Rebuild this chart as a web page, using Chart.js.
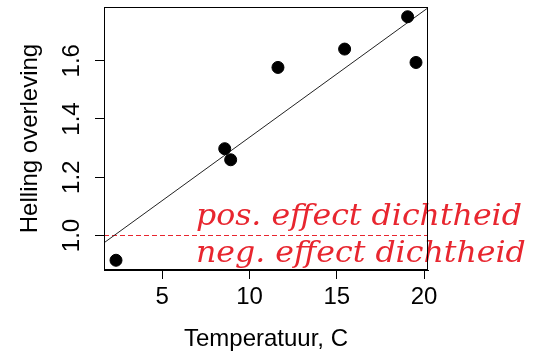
<!DOCTYPE html>
<html><head><meta charset="utf-8">
<script src="https://cdn.jsdelivr.net/npm/chart.js@4/dist/chart.umd.min.js"></script>
<style>html,body{margin:0;padding:0;background:#fff;} #wrap{width:551px;height:355px;}</style>
</head><body><div id="wrap"><canvas id="c" width="551" height="355"></canvas></div>
<script>
// ---- data ----
const temperature = [2.35, 8.58, 8.92, 11.63, 15.45, 19.06, 19.54];
const slopeSurvival = [0.915, 1.298, 1.260, 1.577, 1.640, 1.751, 1.594];
const xTicks = [5, 10, 15, 20];
const yTicks = [1.0, 1.2, 1.4, 1.6];
const yTickLabels = ['1.0', '1.2', '1.4', '1.6'];
const referenceLevel = 1.0;
const annotationTexts = ['pos. effect dichtheid', 'neg. effect dichtheid'];
const xTitle = 'Temperatuur, C';
const yTitle = 'Helling overleving';

// R-style axis ranges (4% extension)
function rRange(a){const lo=Math.min(...a),hi=Math.max(...a),d=(hi-lo)*0.04;return [lo-d,hi+d];}
const [xMin,xMax] = rRange(temperature);
const [yMin,yMax] = rRange(slopeSurvival);

// least-squares fit (abline(lm(y~x)))
const n = temperature.length;
const mx = temperature.reduce((s,v)=>s+v,0)/n;
const my = slopeSurvival.reduce((s,v)=>s+v,0)/n;
let sxy=0,sxx=0;
for(let i=0;i<n;i++){sxy+=(temperature[i]-mx)*(slopeSurvival[i]-my);sxx+=(temperature[i]-mx)**2;}
const b1 = sxy/sxx, b0 = my-b1*mx;

const points = temperature.map((x,i)=>({x, y: slopeSurvival[i]}));
const fitLine = [xMin, xMax].map(x=>({x, y: b0+b1*x}));
const refLine = [xMin, xMax].map(x=>({x, y: referenceLevel}));

const FONT = '"Liberation Sans", Arial, sans-serif';

const framePlugin = {
  id: 'frame',
  afterDraw(chart){
    const {ctx, chartArea:a, scales:{x,y}} = chart;
    ctx.save();
    // annotations
    ctx.fillStyle = '#e8262f';
    ctx.font = 'italic 30px "DejaVu Serif"';
    ctx.textBaseline = 'alphabetic';
    ctx.textAlign = 'left';
    const w0 = ctx.measureText(annotationTexts[0]).width;
    const sx = 326 / w0;
    const x0 = x.getPixelForValue(6.93);
    const bases = [y.getPixelForValue(1.035), y.getPixelForValue(0.91)];
    annotationTexts.forEach((t,i)=>{
      ctx.save();
      ctx.translate(x0, bases[i]);
      ctx.scale(sx, 1);
      ctx.fillText(t, 0, 0);
      ctx.restore();
    });
    // box
    ctx.strokeStyle = '#000';
    ctx.lineWidth = 1;
    ctx.strokeRect(Math.round(a.left)+0.5, Math.round(a.top)+0.5, Math.round(a.right-a.left)-1, Math.round(a.bottom-a.top)-1);
    ctx.restore();
  }
};

new Chart(document.getElementById('c'), {
  type: 'scatter',
  data: {
    datasets: [
      {data: points, backgroundColor:'#000', borderColor:'#000', pointRadius:6, pointHoverRadius:6, showLine:false, order:1},
      {data: fitLine, showLine:true, borderColor:'#222', borderWidth:1, pointRadius:0, order:2},
      {data: refLine, showLine:true, borderColor:'#e8262f', borderWidth:1.2, borderDash:[5,3], pointRadius:0, order:3}
    ]
  },
  options: {
    responsive:false, animation:false, devicePixelRatio:1,
    layout:{padding:{left:0, top:7, right:123, bottom:0}},
    plugins:{legend:{display:false}, tooltip:{enabled:false}},
    scales:{
      x:{
        type:'linear', min:xMin, max:xMax,
        afterBuildTicks(s){ s.ticks = xTicks.map(v=>({value:v})); },
        afterFit(s){ s.height = 85; s.paddingLeft = 0; s.paddingRight = 0; },
        border:{display:true, color:'#000', width:1},
        grid:{display:true, drawOnChartArea:false, drawTicks:true, tickLength:9, color:'#000'},
        ticks:{color:'#000', font:{family:FONT, size:24}, padding:4, maxRotation:0, callback:(v)=>String(v)},
        title:{display:true, text:xTitle, color:'#000', font:{family:FONT, size:24}, padding:{top:0, bottom:1}}
      },
      y:{
        type:'linear', min:yMin, max:yMax,
        afterBuildTicks(s){ s.ticks = yTicks.map(v=>({value:v})); },
        afterFit(s){ s.width = 104; s.paddingTop = 0; s.paddingBottom = 0; },
        border:{display:true, color:'#000', width:1},
        grid:{display:true, drawOnChartArea:false, drawTicks:true, tickLength:9, color:'#000'},
        ticks:{color:'#000', font:{family:FONT, size:24}, padding:6, minRotation:90, maxRotation:90, crossAlign:'center',
          callback:(v)=>{const i=yTicks.findIndex(t=>Math.abs(t-v)<1e-9); return i>=0?yTickLabels[i]:'';}},
        title:{display:true, text:yTitle, color:'#000', font:{family:FONT, size:24}, padding:{top:16, bottom:0}}
      }
    }
  },
  plugins:[framePlugin]
});
</script>
</body></html>
